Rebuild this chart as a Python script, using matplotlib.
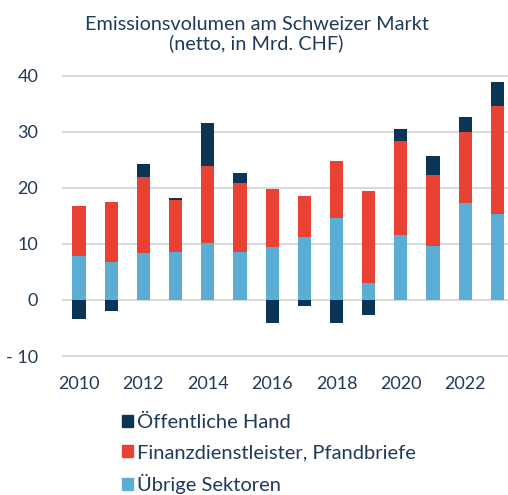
import matplotlib
matplotlib.use("Agg")
import matplotlib.pyplot as plt
import matplotlib.patches as mpatches
import numpy as np

# ── Data (Mrd. CHF, netto) ────────────────────────────────────────────────────
years = [2010, 2011, 2012, 2013, 2014, 2015, 2016,
         2017, 2018, 2019, 2020, 2021, 2022, 2023]
uebrige = [7.8, 6.7, 8.3, 8.5, 10.1, 8.5, 9.4,
           11.3, 14.7, 3.0, 11.5, 9.7, 17.2, 15.3]
finanz = [8.9, 10.7, 13.7, 9.4, 13.7, 12.4, 10.3,
          7.3, 10.1, 16.5, 16.9, 12.5, 12.8, 19.3]
oeffentlich = [-3.4, -2.0, 2.2, 0.3, 7.8, 1.7, -4.1,
               -1.1, -4.1, -2.7, 2.1, 3.5, 2.7, 4.3]
yticks = [-10, 0, 10, 20, 30, 40]
ytick_labels = ["- 10", "0", "10", "20", "30", "40"]
xticks = [2010, 2012, 2014, 2016, 2018, 2020, 2022]

# ── Style ─────────────────────────────────────────────────────────────────────
NAVY = "#0b3556"
RED = "#e84233"
BLUE = "#5aaed4"
TEXT = "#1f3a5a"
GRID = "#d9d9d9"
plt.rcParams["font.family"] = ["Lato", "DejaVu Sans"]

fig = plt.figure(figsize=(5.08, 4.95), dpi=100)
ax = fig.add_axes([0.122, 0.275, 0.878, 0.578])

x = np.array(years)
blue = np.array(uebrige)
red = np.array(finanz)
navy = np.array(oeffentlich)
width = 0.41

ax.bar(x, blue, width, color=BLUE, zorder=3)
ax.bar(x, red, width, bottom=blue, color=RED, zorder=3)
navy_bottom = np.where(navy > 0, blue + red, 0)
ax.bar(x, navy, width, bottom=navy_bottom, color=NAVY, zorder=3)

ax.set_xlim(2009.47, 2023.33)
ax.set_ylim(-10.5, 40.5)
ax.set_yticks(yticks)
ax.set_yticklabels(ytick_labels)
ax.set_xticks(xticks)
ax.grid(axis="y", color=GRID, linewidth=1.5, zorder=0)
for s in ax.spines.values():
    s.set_visible(False)
ax.tick_params(length=0, colors=TEXT, labelsize=13)
ax.tick_params(axis="y", pad=17)
ax.tick_params(axis="x", pad=12)

fig.text(0.505, 0.950, "Emissionsvolumen am Schweizer Markt",
         ha="center", va="center", fontsize=14.3, color=TEXT)
fig.text(0.505, 0.912, "(netto, in Mrd. CHF)",
         ha="center", va="center", fontsize=14.3, color=TEXT)

handles = [
    mpatches.Patch(color=NAVY, label="Öffentliche Hand"),
    mpatches.Patch(color=RED, label="Finanzdienstleister, Pfandbriefe"),
    mpatches.Patch(color=BLUE, label="Übrige Sektoren"),
]
fig.legend(handles=handles, loc="upper left", bbox_to_anchor=(0.24, 0.163),
           frameon=False, fontsize=14.5, labelcolor=TEXT,
           handlelength=0.55, handleheight=0.55, handletextpad=0.2,
           labelspacing=0.64, borderpad=0, borderaxespad=0)

fig.savefig("out.png", dpi=100, facecolor="white")
